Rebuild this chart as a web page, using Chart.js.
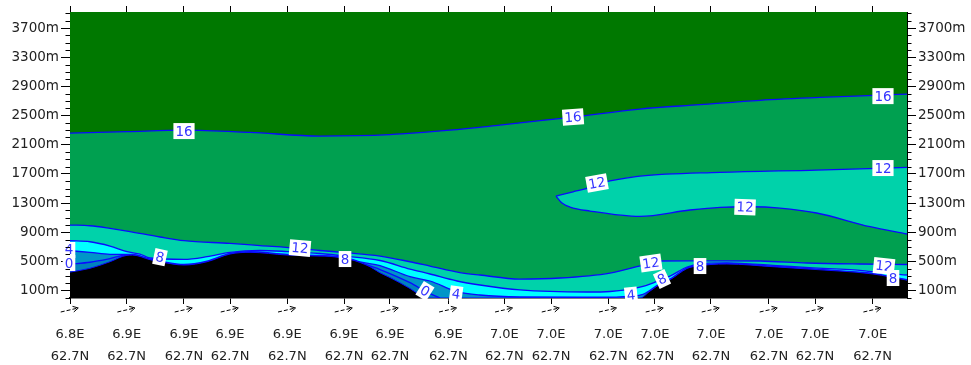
<!DOCTYPE html>
<html>
<head>
<meta charset="utf-8">
<script src="https://cdn.jsdelivr.net/npm/chart.js@4.4.1/dist/chart.umd.min.js"></script>
<style>
html,body{margin:0;padding:0;background:#fff;}
#wrap{width:971px;height:365px;}
</style>
</head>
<body>
<div id="wrap"><canvas id="c" width="971" height="365"></canvas></div>
<script>
// ---------- data ----------
const stations = [0, 6.77, 13.62, 19.12, 25.96, 32.74, 38.23, 45.2, 51.89, 57.47, 64.31, 69.89, 76.58, 83.51, 89.01, 95.9];
const lonLabels = ['6.8E','6.9E','6.9E','6.9E','6.9E','6.9E','6.9E','6.9E','7.0E','7.0E','7.0E','7.0E','7.0E','7.0E','7.0E','7.0E'];
const latLabels = ['62.7N','62.7N','62.7N','62.7N','62.7N','62.7N','62.7N','62.7N','62.7N','62.7N','62.7N','62.7N','62.7N','62.7N','62.7N','62.7N'];
const windDirDeg = [13, 13, 13, 13, 13, 13, 13, 13, 13, 13, 13, 13, 13, 13, 13, 13];
const heightTicks = [100, 500, 900, 1300, 1700, 2100, 2500, 2900, 3300, 3700];

const terrainX = [0, 2.39, 4.78, 6.81, 7.5, 9.56, 10.75, 13.62, 16.37, 19.12, 21.51, 25.93, 29.87, 31.06, 33.45, 35.84, 37.04, 38.23, 40.62, 41.82, 42.41, 55, 68.1, 69.3, 70.49, 71.68, 73.72, 74.43, 78.49, 83.99, 88.77, 95.94, 100];
const terrainH = [355, 407, 497, 585, 588, 525, 497, 452, 497, 603, 626, 589, 575, 570, 530, 429, 345, 280, 130, 40, 0, 0, 0, 95, 190, 250, 405, 429, 466, 429, 393, 329, 245];

const zeroLeftX = [0, 2.39, 4.78, 6.81, 7.5];
const zeroLeftH = [465, 490, 540, 592, 590];
const zeroMidX = [33.45, 34.65, 37.04, 40.62, 42.65, 44.21];
const zeroMidH = [532, 485, 390, 210, 80, 0];

const fourX = [0, 2.39, 4.78, 6.81, 7.5, 9.56, 10.75, 13.62, 16.37, 19.12, 21.51, 25.93, 29.87, 31.06, 33.45, 34.65, 37.04, 40.62, 43.01, 46.24, 48.98, 53.76, 63.32, 67.03, 68.46, 69.3, 70.49, 71.68, 73.72, 74.43, 75.27, 78.49, 83.99, 88.77, 92.0, 95.94, 97.97, 100];
const fourH = [648, 626, 599, 597, 598, 533, 505, 460, 505, 611, 634, 597, 583, 578, 540, 495, 445, 292, 233, 89, 41, 14, 10, 27, 50, 105, 198, 258, 413, 437, 445, 473, 436, 400, 372, 338, 295, 253];

const eightX = [0, 2.39, 4.78, 6.81, 8.36, 9.56, 13.62, 16.37, 19.12, 22.70, 25.93, 29.87, 32.86, 37.04, 40.62, 43.01, 46.24, 48.98, 53.76, 61.77, 64.52, 68.46, 70.49, 70.73, 71.68, 73.72, 75.27, 78.49, 83.99, 88.77, 92.0, 94.38, 97.0, 100];
const eightH = [785, 771, 712, 634, 600, 548, 530, 566, 626, 651, 637, 610, 575, 514, 397, 329, 233, 178, 110, 82, 89, 158, 247, 260, 300, 425, 468, 482, 447, 412, 395, 380, 345, 315];

const twelveX = [0, 2.39, 4.78, 6.81, 10.75, 13.62, 19.12, 22.70, 27.48, 29.87, 32.86, 37.04, 40.62, 43.01, 46.59, 48.98, 53.76, 58.54, 64.52, 68.46, 70.13, 74.07, 78.49, 82.44, 88.05, 94.38, 100];
const twelveH = [1000, 990, 955, 918, 836, 785, 749, 719, 678, 651, 623, 575, 497, 438, 349, 315, 260, 274, 342, 452, 507, 510, 510, 507, 480, 466, 459];

const tongueUpX = [58.06, 60.1, 61.77, 62.96, 65.71, 68.1, 77.66, 89.2, 100];
const tongueUpH = [1397, 1456, 1503, 1562, 1630, 1671, 1722, 1754, 1790];
const tongueLowX = [58.06, 58.78, 59.74, 62.13, 68.1, 74.07, 77.66, 81.24, 84.83, 89.2, 95.6, 100];
const tongueLowH = [1397, 1302, 1247, 1192, 1118, 1206, 1243, 1251, 1233, 1165, 977, 877];

const sixteenX = [0, 6.81, 13.62, 21.51, 29.87, 38.23, 45.4, 51.37, 56.15, 60.1, 68.1, 75.27, 82.44, 89.61, 96.77, 100];
const sixteenH = [2260, 2280, 2300, 2270, 2220, 2240, 2300, 2370, 2430, 2480, 2590, 2650, 2710, 2750, 2780, 2795];

const labelText = ['16','16','16','12','12','12','12','8','8','12','8','8','12','8','0','4','4','4','0'];
const labelX = [13.62, 60.10, 97.13, 62.96, 80.65, 97.13, 27.48, 10.75, 32.86, 69.41, 70.73, 75.27, 97.25, 98.33, 42.41, 46.12, 67.03, -0.12, -0.12];
const labelH = [2288, 2480, 2767, 1576, 1247, 1781, 685, 560, 534, 480, 260, 438, 438, 274, 96, 55, 41, 658, 479];
const labelAngle = [0, -4, 0, -10, 2, 0, 5, 12, 0, -8, -25, 0, 6, 0, 32, 8, -6, 0, 0];

// ---------- styling ----------
const LINE = '#0a0aff';
const C_TOP = '#007800';
const C_1216 = '#00a050';
const C_0812 = '#00d2aa';
const C_0408 = '#00ffff';
const C_0004 = '#0096c8';
const C_NEG = '#0082be';
const FONT = '"DejaVu Sans", sans-serif';

function pts(xs, hs) { return xs.map((x, i) => ({ x: x, y: hs[i] })); }
function band(xs, hs, fillColor) {
  return {
    data: pts(xs, hs),
    fill: 'start',
    backgroundColor: fillColor,
    borderColor: LINE,
    borderWidth: 1.3,
    pointRadius: 0,
    cubicInterpolationMode: 'monotone'
  };
}

// dataset 0 is drawn last (on top)
const datasets = [
  band(terrainX, terrainH, '#000000'),
  band(zeroLeftX, zeroLeftH, C_NEG),
  band(zeroMidX, zeroMidH, C_NEG),
  band(fourX, fourH, C_0004),
  band(eightX, eightH, C_0408),
  band(twelveX, twelveH, C_0812),
  band(tongueLowX, tongueLowH, C_1216),
  band(tongueUpX, tongueUpH, C_0812),
  band(sixteenX, sixteenH, C_1216)
];
datasets[0].borderWidth = 1;

const bgPlugin = {
  id: 'plotBg',
  beforeDatasetsDraw(chart) {
    const a = chart.chartArea, ctx = chart.ctx;
    ctx.save();
    ctx.fillStyle = C_TOP;
    ctx.fillRect(a.left, a.top, a.right - a.left, a.bottom - a.top);
    ctx.restore();
  }
};

const labelPlugin = {
  id: 'contourLabels',
  afterDatasetsDraw(chart) {
    const ctx = chart.ctx, xs = chart.scales.x, ys = chart.scales.y;
    ctx.save();
    ctx.font = '13.5px ' + FONT;
    ctx.textAlign = 'center';
    ctx.textBaseline = 'middle';
    for (let i = 0; i < labelText.length; i++) {
      const px = xs.getPixelForValue(labelX[i]);
      const py = ys.getPixelForValue(labelH[i]);
      ctx.save();
      ctx.translate(px, py);
      ctx.rotate(labelAngle[i] * Math.PI / 180);
      const w = ctx.measureText(labelText[i]).width + 4;
      ctx.fillStyle = '#ffffff';
      ctx.fillRect(-w / 2, -8, w, 16);
      ctx.fillStyle = '#3535ff';
      ctx.fillText(labelText[i], 0, 1);
      ctx.restore();
    }
    ctx.restore();
  }
};

const extrasPlugin = {
  id: 'extras',
  afterDraw(chart) {
    const ctx = chart.ctx, a = chart.chartArea, xs = chart.scales.x, ys = chart.scales.y;
    ctx.save();
    // minor height ticks every 100 m
    ctx.strokeStyle = '#000';
    ctx.lineWidth = 1;
    for (let v = 0; v <= ys.max; v += 100) {
      if (heightTicks.indexOf(v) >= 0) continue;
      const py = Math.round(ys.getPixelForValue(v)) + 0.5;
      ctx.beginPath();
      ctx.moveTo(a.left - 4.5, py); ctx.lineTo(a.left, py);
      ctx.moveTo(a.right, py); ctx.lineTo(a.right + 4.5, py);
      ctx.stroke();
    }
    // wind arrows under each station
    stations.forEach((s, i) => {
      const cx = xs.getPixelForValue(s) - 0.5;
      const cy = a.bottom + 12;
      const ang = -windDirDeg[i] * Math.PI / 180;
      const L = 18;
      const dx = Math.cos(ang) * L / 2, dy = Math.sin(ang) * L / 2;
      const tx = cx + dx, ty = cy + dy;
      ctx.setLineDash([4, 2]);
      ctx.beginPath();
      ctx.moveTo(cx - dx, cy - dy);
      ctx.lineTo(tx, ty);
      ctx.stroke();
      ctx.setLineDash([]);
      ctx.beginPath();
      ctx.moveTo(tx + Math.cos(ang + Math.PI - 0.5) * 6, ty + Math.sin(ang + Math.PI - 0.5) * 6);
      ctx.lineTo(tx, ty);
      ctx.lineTo(tx + Math.cos(ang + Math.PI + 0.5) * 6, ty + Math.sin(ang + Math.PI + 0.5) * 6);
      ctx.stroke();
    });
    ctx.restore();
  }
};

const stationTicks = (scale) => { scale.ticks = stations.map(v => ({ value: v })); };
const heightTickFn = (scale) => { scale.ticks = heightTicks.map(v => ({ value: v })); };

const yCommon = (pos, width) => ({
  type: 'linear', position: pos, min: 0, max: 3920,
  afterBuildTicks: heightTickFn,
  afterFit: (s) => { s.width = width; },
  grid: { drawOnChartArea: false, drawTicks: true, tickLength: 9, color: '#000', tickColor: '#000' },
  border: { display: true, color: '#000', width: 1 },
  ticks: { padding: 2, color: '#222', font: { family: FONT, size: 13.5 }, callback: (v) => v + 'm' }
});

new Chart(document.getElementById('c'), {
  type: 'line',
  data: { datasets: datasets },
  plugins: [bgPlugin, labelPlugin, extrasPlugin],
  options: {
    responsive: false,
    animation: false,
    devicePixelRatio: 1,
    layout: { padding: 0 },
    plugins: { legend: { display: false }, tooltip: { enabled: false }, filler: { propagate: false } },
    scales: {
      x: {
        type: 'linear', position: 'bottom', min: 0, max: 100,
        afterBuildTicks: stationTicks,
        afterFit: (s) => { s.height = 67; },
        grid: { drawOnChartArea: false, drawTicks: true, tickLength: 6, color: '#000' },
        border: { display: true, color: '#000', width: 1.5 },
        ticks: {
          padding: 20, color: '#222', maxRotation: 0, autoSkip: false,
          font: { family: FONT, size: 13, lineHeight: '22px' },
          callback: (v, i) => [lonLabels[i], latLabels[i]]
        }
      },
      x2: {
        type: 'linear', position: 'top', min: 0, max: 100,
        afterBuildTicks: stationTicks,
        afterFit: (s) => { s.height = 12; },
        grid: { drawOnChartArea: false, drawTicks: true, tickLength: 6, color: '#000' },
        border: { display: true, color: '#000', width: 1 },
        ticks: { display: false }
      },
      y: yCommon('left', 70),
      y2: yCommon('right', 64)
    }
  }
});
</script>
</body>
</html>
